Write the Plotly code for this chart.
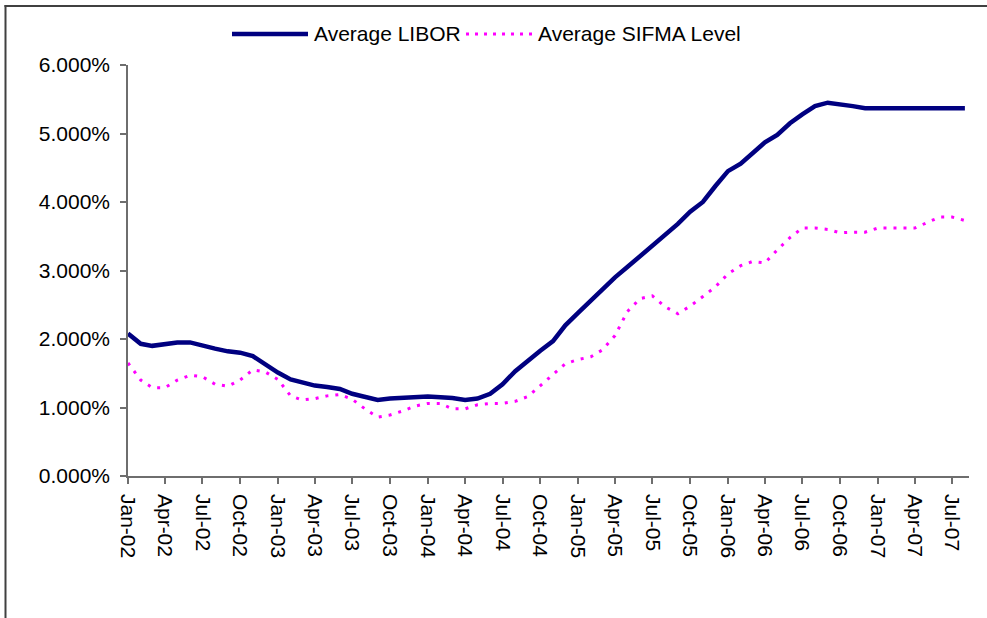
import pandas as pd
import plotly.graph_objects as go

# Monthly observations, Jan-2002 .. Aug-2007 (percent)
months = pd.date_range("2002-01-01", periods=68, freq="MS")

libor = [2.08, 1.93, 1.90, 1.93, 1.95, 1.95, 1.90, 1.86, 1.82, 1.80, 1.75, 1.63,
         1.51, 1.41, 1.37, 1.32, 1.30, 1.27, 1.20, 1.15, 1.11, 1.13, 1.14, 1.16,
         1.16, 1.15, 1.14, 1.11, 1.13, 1.20, 1.34, 1.53, 1.69, 1.83, 1.97, 2.20,
         2.38, 2.56, 2.72, 2.90, 3.05, 3.21, 3.37, 3.52, 3.68, 3.86, 4.00, 4.23,
         4.45, 4.56, 4.71, 4.87, 4.98, 5.15, 5.28, 5.40, 5.45, 5.43, 5.40, 5.37,
         5.37, 5.37, 5.37, 5.37, 5.37, 5.37, 5.37, 5.37]

sifma = [1.65, 1.40, 1.29, 1.29, 1.40, 1.47, 1.45, 1.34, 1.31, 1.40, 1.55, 1.52,
         1.41, 1.17, 1.11, 1.13, 1.17, 1.19, 1.12, 0.98, 0.86, 0.89, 0.95, 1.02,
         1.06, 1.06, 0.98, 0.98, 1.04, 1.06, 1.06, 1.09, 1.16, 1.32, 1.49, 1.64,
         1.70, 1.74, 1.84, 2.05, 2.40, 2.59, 2.63, 2.47, 2.37, 2.48, 2.62, 2.76,
         2.95, 3.07, 3.13, 3.11, 3.30, 3.48, 3.62, 3.62, 3.60, 3.55, 3.56, 3.56,
         3.62, 3.62, 3.62, 3.62, 3.70, 3.78, 3.78, 3.73]

series_names = ["Average LIBOR", "Average SIFMA Level"]
tick_dates = pd.date_range("2002-01-01", "2007-07-01", freq="3MS")

libor_frac = [v / 100 for v in libor]
sifma_frac = [v / 100 for v in sifma]

FONT = "Liberation Sans, Arial, sans-serif"
NAVY = "#000080"
MAGENTA = "#FF00FF"
AXIS = "#6e6e6e"
FRAME = "#404040"

fig = go.Figure()
fig.add_trace(go.Scatter(x=months, y=libor_frac, mode="lines", name=series_names[0],
                         line=dict(color=NAVY, width=4.5), showlegend=False))
fig.add_trace(go.Scatter(x=months, y=sifma_frac, mode="lines", name=series_names[1],
                         line=dict(color=MAGENTA, width=3, dash="3px,7px"), showlegend=False))

W, H = 987, 618
L, R, T, B = 128, 18, 65, 142
pw, ph = W - L - R, H - T - B

def px_x(px):
    return (px - L) / pw

def px_y(py):
    return (H - B - py) / ph

shapes = [
    # chart frame: left and top edges (right/bottom edges lie outside the canvas)
    dict(type="line", xref="paper", yref="paper",
         x0=px_x(5.5), x1=px_x(5.5), y0=px_y(620), y1=px_y(5),
         line=dict(color=FRAME, width=2)),
    dict(type="line", xref="paper", yref="paper",
         x0=px_x(4.5), x1=px_x(990), y0=px_y(6), y1=px_y(6),
         line=dict(color=FRAME, width=2)),
    # legend samples
    dict(type="line", xref="paper", yref="paper", x0=px_x(232), x1=px_x(308),
         y0=px_y(34), y1=px_y(34), line=dict(color=NAVY, width=4.5)),
    dict(type="line", xref="paper", yref="paper", x0=px_x(466), x1=px_x(532),
         y0=px_y(34), y1=px_y(34), line=dict(color=MAGENTA, width=3, dash="3px,6px")),
]
annotations = [
    dict(text=series_names[0], xref="paper", yref="paper", x=px_x(312), y=px_y(34),
         xanchor="left", yanchor="middle", showarrow=False,
         font=dict(family=FONT, size=21, color="black")),
    dict(text=series_names[1], xref="paper", yref="paper", x=px_x(536), y=px_y(34),
         xanchor="left", yanchor="middle", showarrow=False,
         font=dict(family=FONT, size=21, color="black")),
]

fig.update_layout(
    width=W, height=H,
    margin=dict(l=L, r=R, t=T, b=B, pad=0),
    paper_bgcolor="white", plot_bgcolor="white",
    font=dict(family=FONT, size=21, color="black"),
    shapes=shapes, annotations=annotations,
    showlegend=False,
)
fig.update_xaxes(
    type="date", range=["2002-01-01", "2007-08-11"],
    tickvals=tick_dates, tickformat="%b-%y", tickangle=90,
    ticks="outside", ticklen=6, tickwidth=1.5, tickcolor=AXIS,
    showline=True, linecolor=AXIS, linewidth=1.5, showgrid=False, zeroline=False,
    ticklabelstandoff=6,
    tickfont=dict(family=FONT, size=21, color="black"),
)
fig.update_yaxes(
    range=[0, 0.06], dtick=0.01, tick0=0, tickformat=".3%",
    ticks="outside", ticklen=6, tickwidth=1.5, tickcolor=AXIS,
    showline=True, linecolor=AXIS, linewidth=1.5, showgrid=False, zeroline=False,
    ticklabelstandoff=6,
    tickfont=dict(family=FONT, size=21, color="black"),
)

fig.write_html(
    "out.html",
    config={"displayModeBar": False},
    post_script="document.body.style.margin='0';document.body.style.overflow='hidden';",
)
